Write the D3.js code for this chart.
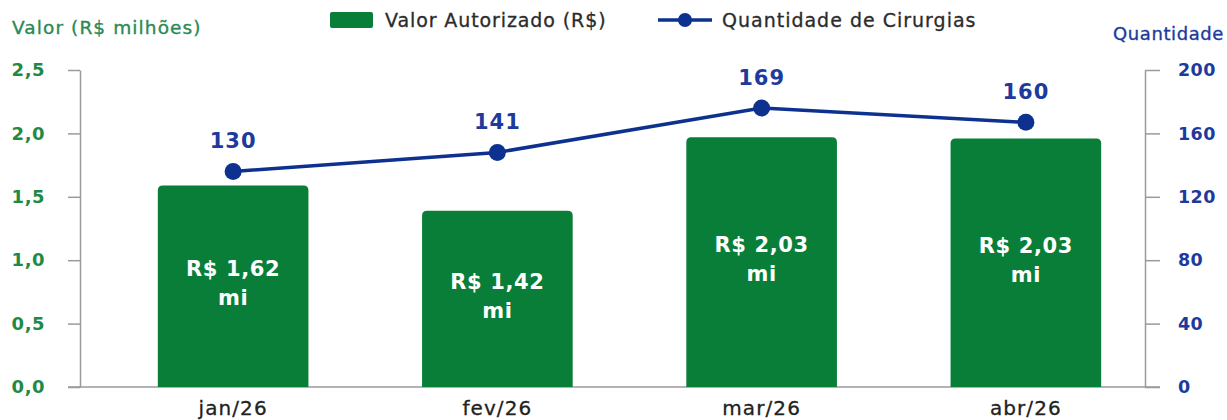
<!DOCTYPE html>
<html>
<head>
<meta charset="utf-8">
<script src="https://cdn.jsdelivr.net/npm/d3@7"></script>
<style>
  html, body { margin: 0; padding: 0; background: #fff; }
  svg { display: block; font-family: "DejaVu Sans", sans-serif; }
</style>
</head>
<body>
<div id="chart"></div>
<script>
// categories
const months = ["jan/26", "fev/26", "mar/26", "abr/26"];
// bar heights as drawn (R$ milhões) and their printed labels
const valor = [1.59, 1.39, 1.97, 1.96];
const valorLabels = ["R$ 1,62", "R$ 1,42", "R$ 2,03", "R$ 2,03"];
// line points as drawn and their printed labels
const cirurgias = [136, 148, 176, 167];
const cirurgiasLabels = ["130", "141", "169", "160"];
// tick labels
const leftTicks = [0, 0.5, 1.0, 1.5, 2.0, 2.5];
const rightTicks = [0, 40, 80, 120, 160, 200];

const W = 1227, H = 420;
const green = "#097e39", greenText = "#1f8a45", blue = "#0c318f", blueText = "#1d3a9c";
const FONT = "DejaVu Sans, sans-serif";

const svg = d3.select("#chart").append("svg")
  .attr("width", W)
  .attr("height", H);

const x = d3.scaleBand().domain(months).range([101, 1158])
  .paddingInner(0.43).paddingOuter(0.215);
const yL = d3.scaleLinear().domain([0, 2.5]).range([387, 70]);
const yR = d3.scaleLinear().domain([0, 200]).range([387, 70]);

const comma = d => d3.format(".1f")(d).replace(".", ",");

// left axis
const gl = svg.append("g").attr("transform", "translate(80,0)")
  .call(d3.axisLeft(yL).tickValues(leftTicks).tickFormat(comma)
    .tickSize(12).tickSizeOuter(0).tickPadding(23))
  .attr("font-family", FONT);
gl.select(".domain").attr("stroke", "#9a9a9a").attr("stroke-width", 1.5);
gl.selectAll(".tick line").attr("stroke", "#9a9a9a").attr("stroke-width", 1.5);
gl.selectAll(".tick text").attr("fill", greenText)
  .style("font-size", "18px").style("font-weight", "bold").style("letter-spacing", "0.5px");

// right axis
const gr = svg.append("g").attr("transform", "translate(1145,0)")
  .call(d3.axisRight(yR).tickValues(rightTicks)
    .tickSize(15).tickSizeOuter(0).tickPadding(18))
  .attr("font-family", FONT);
gr.select(".domain").attr("stroke", "#9a9a9a").attr("stroke-width", 1.5);
gr.selectAll(".tick line").attr("stroke", "#9a9a9a").attr("stroke-width", 1.5);
gr.selectAll(".tick text").attr("fill", blueText)
  .style("font-size", "17.5px").style("font-weight", "bold").style("letter-spacing", "0.4px");

// baseline
svg.append("line")
  .attr("x1", 68).attr("x2", 1160)
  .attr("y1", yL(0)).attr("y2", yL(0))
  .attr("stroke", "#9a9a9a").attr("stroke-width", 1.5);

// axis titles
svg.append("text").attr("x", 12).attr("y", 34)
  .attr("fill", "#2a8a55").attr("stroke", "#2a8a55").attr("stroke-width", 0.35)
  .style("font-size", "18.5px").style("letter-spacing", "1.1px")
  .text("Valor (R$ milhões)");
svg.append("text").attr("x", 1113).attr("y", 40)
  .attr("fill", blueText).attr("stroke", blueText).attr("stroke-width", 0.35)
  .style("font-size", "18px").style("letter-spacing", "0.6px")
  .text("Quantidade");

// bars with rounded top corners
const r = 5;
function barPath(d, i) {
  const x0 = x(months[i]), w = x.bandwidth();
  const y0 = yL(d), yb = yL(0);
  return `M${x0},${yb}V${y0 + r}Q${x0},${y0} ${x0 + r},${y0}H${x0 + w - r}` +
    `Q${x0 + w},${y0} ${x0 + w},${y0 + r}V${yb}Z`;
}
svg.append("g").selectAll("path").data(valor).join("path")
  .attr("d", barPath)
  .attr("fill", green);

// bar labels
const bl = svg.append("g").selectAll("text").data(valor).join("text")
  .attr("text-anchor", "middle")
  .attr("fill", "#fff")
  .style("font-size", "21px").style("font-weight", "bold").style("letter-spacing", "0.6px")
  .attr("transform", (d, i) => `translate(${x(months[i]) + x.bandwidth() / 2},${(yL(d) + yL(0)) / 2})`);
bl.append("tspan").attr("x", 0).attr("y", -10).text((d, i) => valorLabels[i]);
bl.append("tspan").attr("x", 0).attr("y", 19).text("mi");

// line
const cx = (d, i) => x(months[i]) + x.bandwidth() / 2;
const line = d3.line().x(cx).y(d => yR(d));
svg.append("path").datum(cirurgias)
  .attr("d", line)
  .attr("fill", "none")
  .attr("stroke", blue)
  .attr("stroke-width", 3.5);
svg.append("g").selectAll("circle").data(cirurgias).join("circle")
  .attr("cx", cx).attr("cy", d => yR(d)).attr("r", 8.5)
  .attr("fill", blue);
svg.append("g").selectAll("text").data(cirurgias).join("text")
  .attr("x", cx).attr("y", d => yR(d) - 23)
  .attr("text-anchor", "middle")
  .attr("fill", blueText)
  .style("font-size", "21px").style("font-weight", "bold").style("letter-spacing", "1px")
  .text((d, i) => cirurgiasLabels[i]);

// category labels
svg.append("g").selectAll("text").data(months).join("text")
  .attr("x", d => x(d) + x.bandwidth() / 2).attr("y", 415)
  .attr("text-anchor", "middle")
  .attr("fill", "#222").attr("stroke", "#222").attr("stroke-width", 0.3)
  .style("font-size", "20px").style("letter-spacing", "1.1px")
  .text(d => d);

// legend
const lg = svg.append("g");
lg.append("rect").attr("x", 330).attr("y", 12).attr("width", 43).attr("height", 16)
  .attr("rx", 2).attr("fill", green);
lg.append("text").attr("x", 385).attr("y", 27)
  .attr("fill", "#2b2b2b").attr("stroke", "#2b2b2b").attr("stroke-width", 0.3)
  .style("font-size", "19px").style("letter-spacing", "0.9px")
  .text("Valor Autorizado (R$)");
lg.append("line").attr("x1", 658).attr("x2", 712).attr("y1", 20).attr("y2", 20)
  .attr("stroke", blue).attr("stroke-width", 3.5);
lg.append("circle").attr("cx", 685).attr("cy", 20).attr("r", 7).attr("fill", blue);
lg.append("text").attr("x", 722).attr("y", 27)
  .attr("fill", "#2b2b2b").attr("stroke", "#2b2b2b").attr("stroke-width", 0.3)
  .style("font-size", "19px").style("letter-spacing", "1px")
  .text("Quantidade de Cirurgias");
</script>
</body>
</html>
